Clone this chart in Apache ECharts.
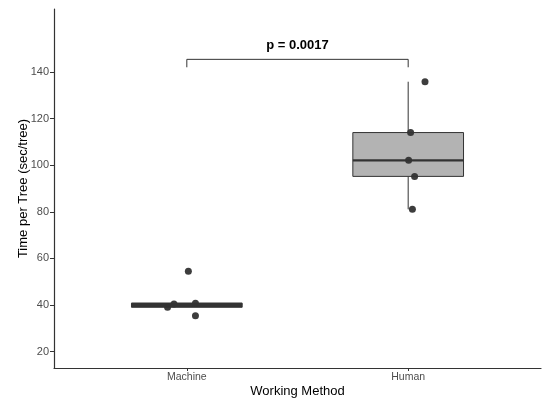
<!DOCTYPE html>
<html>
<head>
<meta charset="utf-8">
<script src="https://cdn.jsdelivr.net/npm/echarts@6/dist/echarts.min.js"></script>
<style>html,body{margin:0;padding:0;background:#fff;}#c{width:543px;height:401px;}</style>
</head>
<body>
<div id="c"></div>
<script>
var categories = ['Machine', 'Human'];
// box stats: [min whisker, Q1, median, Q3, max whisker]
var boxStats = [
  [39.05, 39.05, 40.5, 40.8, 40.8],
  [81.1, 95.2, 102.1, 114.0, 135.8]
];
// observed points: [category offset (jitter), value]
var machinePoints = [[0.007, 54.5], [-0.087, 39.05], [-0.058, 40.5], [0.039, 40.8], [0.039, 35.4]];
var humanPoints = [[0.076, 135.8], [0.011, 114.0], [0.002, 102.1], [0.029, 95.2], [0.019, 81.1]];
var yTicks = [20, 40, 60, 80, 100, 120, 140];
var pLabel = 'p = 0.0017';
var bracket = [0, 1, 142, 145.4, 151.3];

var boxData = boxStats.map(function (s, i) { return [i].concat(s); });
var pointData = [];
machinePoints.forEach(function (p) { pointData.push([0 + p[0], p[1]]); });
humanPoints.forEach(function (p) { pointData.push([1 + p[0], p[1]]); });

var chart = echarts.init(document.getElementById('c'), null, {renderer: 'canvas'});
var font = 'Liberation Sans, Arial, sans-serif';
chart.setOption({
  animation: false,
  backgroundColor: '#ffffff',
  grid: {left: 54, right: 2, top: 9, bottom: 33, containLabel: false, outerBoundsMode: 'none'},
  xAxis: {
    type: 'value', min: -0.6, max: 1.6,
    name: 'Working Method', nameLocation: 'middle', nameGap: 17, nameMoveOverlap: false,
    nameTextStyle: {fontFamily: font, fontSize: 13, color: '#000'},
    splitLine: {show: false},
    axisLine: {show: true, onZero: false, lineStyle: {color: '#333', width: 1.2}},
    axisTick: {show: true, length: 3, customValues: [0, 1], lineStyle: {color: '#333'}},
    axisLabel: {customValues: [0, 1], margin: 4, fontFamily: font, fontSize: 10.5, color: '#4d4d4d',
      formatter: function (v) { return categories[Math.round(v)] || ''; }}
  },
  yAxis: {
    type: 'value', min: 13, max: 167,
    name: 'Time per Tree (sec/tree)', nameLocation: 'middle', nameGap: 24, nameMoveOverlap: false,
    nameTextStyle: {fontFamily: font, fontSize: 13, color: '#000'},
    splitLine: {show: false},
    axisLine: {show: true, onZero: false, lineStyle: {color: '#333', width: 1.2}},
    axisTick: {show: true, length: 4, customValues: yTicks, lineStyle: {color: '#333'}},
    axisLabel: {customValues: yTicks, margin: 5, fontFamily: font, fontSize: 11, color: '#4d4d4d'}
  },
  series: [
    {
      type: 'custom',
      data: boxData,
      z: 2,
      renderItem: function (params, api) {
        var x = api.value(0);
        var w = api.size([0.5, 0])[0];
        var pMin = api.coord([x, api.value(1)]);
        var pQ1 = api.coord([x, api.value(2)]);
        var pMed = api.coord([x, api.value(3)]);
        var pQ3 = api.coord([x, api.value(4)]);
        var pMax = api.coord([x, api.value(5)]);
        var stroke = '#333333';
        return {
          type: 'group',
          children: [
            {type: 'line', shape: {x1: pMin[0], y1: pMin[1], x2: pQ1[0], y2: pQ1[1]}, style: {stroke: stroke, lineWidth: 1}},
            {type: 'line', shape: {x1: pQ3[0], y1: pQ3[1], x2: pMax[0], y2: pMax[1]}, style: {stroke: stroke, lineWidth: 1}},
            {type: 'rect', shape: {x: pQ1[0] - w / 2, y: pQ3[1], width: w, height: pQ1[1] - pQ3[1]},
              style: {fill: params.dataIndex === 0 ? '#333333' : '#b3b3b3', stroke: stroke, lineWidth: 1}},
            {type: 'line', shape: {x1: pMed[0] - w / 2, y1: pMed[1], x2: pMed[0] + w / 2, y2: pMed[1]}, style: {stroke: stroke, lineWidth: 2.2}}
          ]
        };
      }
    },
    {
      type: 'scatter',
      data: pointData,
      symbol: 'circle',
      symbolSize: 7,
      z: 5,
      itemStyle: {color: '#333333', opacity: 0.95}
    },
    {
      type: 'custom',
      data: [bracket],
      z: 3,
      renderItem: function (params, api) {
        var a = api.coord([api.value(0), api.value(2)]);
        var b = api.coord([api.value(0), api.value(3)]);
        var c = api.coord([api.value(1), api.value(3)]);
        var d = api.coord([api.value(1), api.value(2)]);
        var t = api.coord([(api.value(0) + api.value(1)) / 2, api.value(4)]);
        return {
          type: 'group',
          children: [
            {type: 'polyline', shape: {points: [a, b, c, d]}, style: {stroke: '#333', lineWidth: 1, fill: null}},
            {type: 'text', x: t[0], y: t[1], style: {text: pLabel, fontFamily: font, fontSize: 13, fontWeight: 'bold', fill: '#000', align: 'center', verticalAlign: 'middle'}}
          ]
        };
      }
    }
  ]
});
</script>
</body>
</html>
